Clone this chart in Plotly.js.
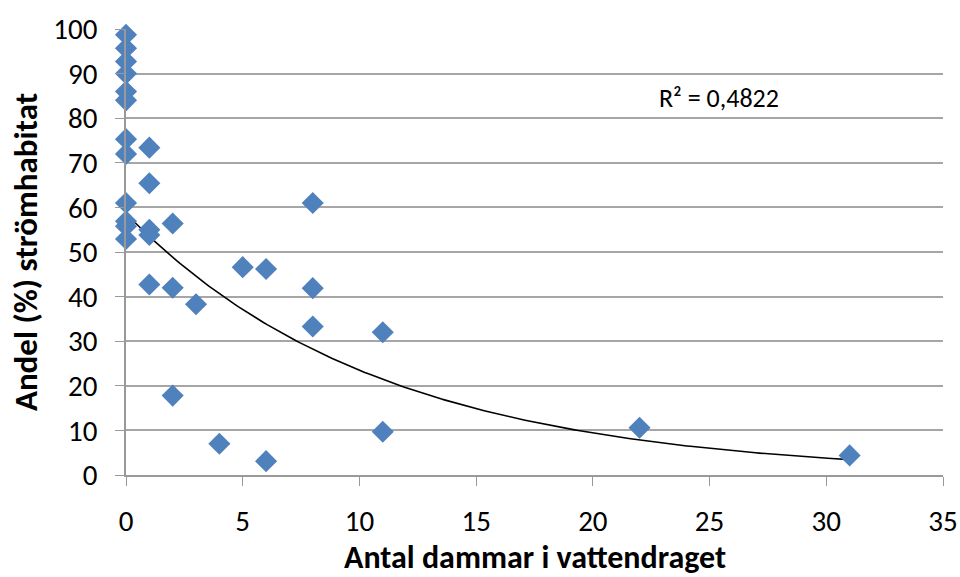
<!DOCTYPE html>
<html><head><meta charset="utf-8">
<script src="https://cdn.plot.ly/plotly-3.0.1.min.js"></script>
<style>html,body{margin:0;padding:0;background:#fff}#chart{width:960px;height:577px}</style>
</head><body><div id="chart"></div>
<script>
var dams = [0,0,0,0,0,0,0,0,0,0,0,0, 1,1,1,1,1, 2,2,2, 3, 4, 5, 6,6, 8,8,8, 11,11, 22, 31];
var share = [98.7,95.7,92.7,90.0,86.0,84.0,75.3,72.0,61.0,56.9,55.8,52.9, 73.4,65.4,55.0,53.8,42.7, 56.4,42.0,17.8, 38.3, 7.0, 46.6, 46.2,3.1, 61.0,41.9,33.3, 32.0,9.7, 10.6, 4.4];
var xTicks = [0,5,10,15,20,25,30,35];
var yTicks = [0,10,20,30,40,50,60,70,80,90,100];
var r2Label = 'R² = 0,4822';
var xTitle = 'Antal dammar i vattendraget';
var yTitle = 'Andel (%) strömhabitat';

// Exponential trendline (least squares on ln y, as spreadsheet trendlines do)
var n = dams.length, sx=0, sy=0, sxx=0, sxy=0;
for (var i=0;i<n;i++){var lx=dams[i], ly=Math.log(share[i]); sx+=lx; sy+=ly; sxx+=lx*lx; sxy+=lx*ly;}
var b = (n*sxy - sx*sy)/(n*sxx - sx*sx);
var a = Math.exp((sy - b*sx)/n);
var tx=[], ty=[];
var xmin=Math.min.apply(null,dams), xmax=Math.max.apply(null,dams);
for (var k=0;k<=200;k++){var xv=xmin+(xmax-xmin)*k/200; tx.push(xv); ty.push(a*Math.exp(b*xv));}

var font = 'Carlito, Calibri, "Open Sans", sans-serif';
Plotly.newPlot('chart', [
  {x: tx, y: ty, mode:'lines', line:{color:'#000', width:1.6}, hoverinfo:'skip', showlegend:false},
  {x: dams, y: share, mode:'markers', cliponaxis:false, marker:{symbol:'diamond', size:17, color:'#4F81BD'}, showlegend:false}
], {
  width:960, height:577,
  margin:{l:126, r:17, t:29, b:102},
  paper_bgcolor:'#fff', plot_bgcolor:'#fff',
  font:{family:font, color:'#000'},
  xaxis:{range:[0,35], tickvals:xTicks, showgrid:false, zeroline:false, showline:true, linecolor:'#999', linewidth:1.5,
    ticks:'outside', ticklen:9, tickcolor:'#999', tickfont:{size:29}, ticklabelstandoff:10},
  yaxis:{range:[0,100], tickvals:yTicks, showgrid:true, gridcolor:'#a6a6a6', gridwidth:1.5, zeroline:false, showline:true, linecolor:'#999', linewidth:1.5,
    ticks:'outside', ticklen:9, tickcolor:'#999', tickfont:{size:29}, ticklabelstandoff:12,
    title:{text:'<b>'+yTitle+'</b>', font:{size:33}, standoff:6}},
  annotations:[
    {x:25.4, y:84.5, xref:'x', yref:'y', text:r2Label, showarrow:false, font:{size:26}},
    {x:0.5, y:-0.184, xref:'paper', yref:'paper', xanchor:'center', yanchor:'middle', text:'<b>'+xTitle+'</b>', showarrow:false, font:{size:32}}
  ]
}, {displayModeBar:false});
</script></body></html>
